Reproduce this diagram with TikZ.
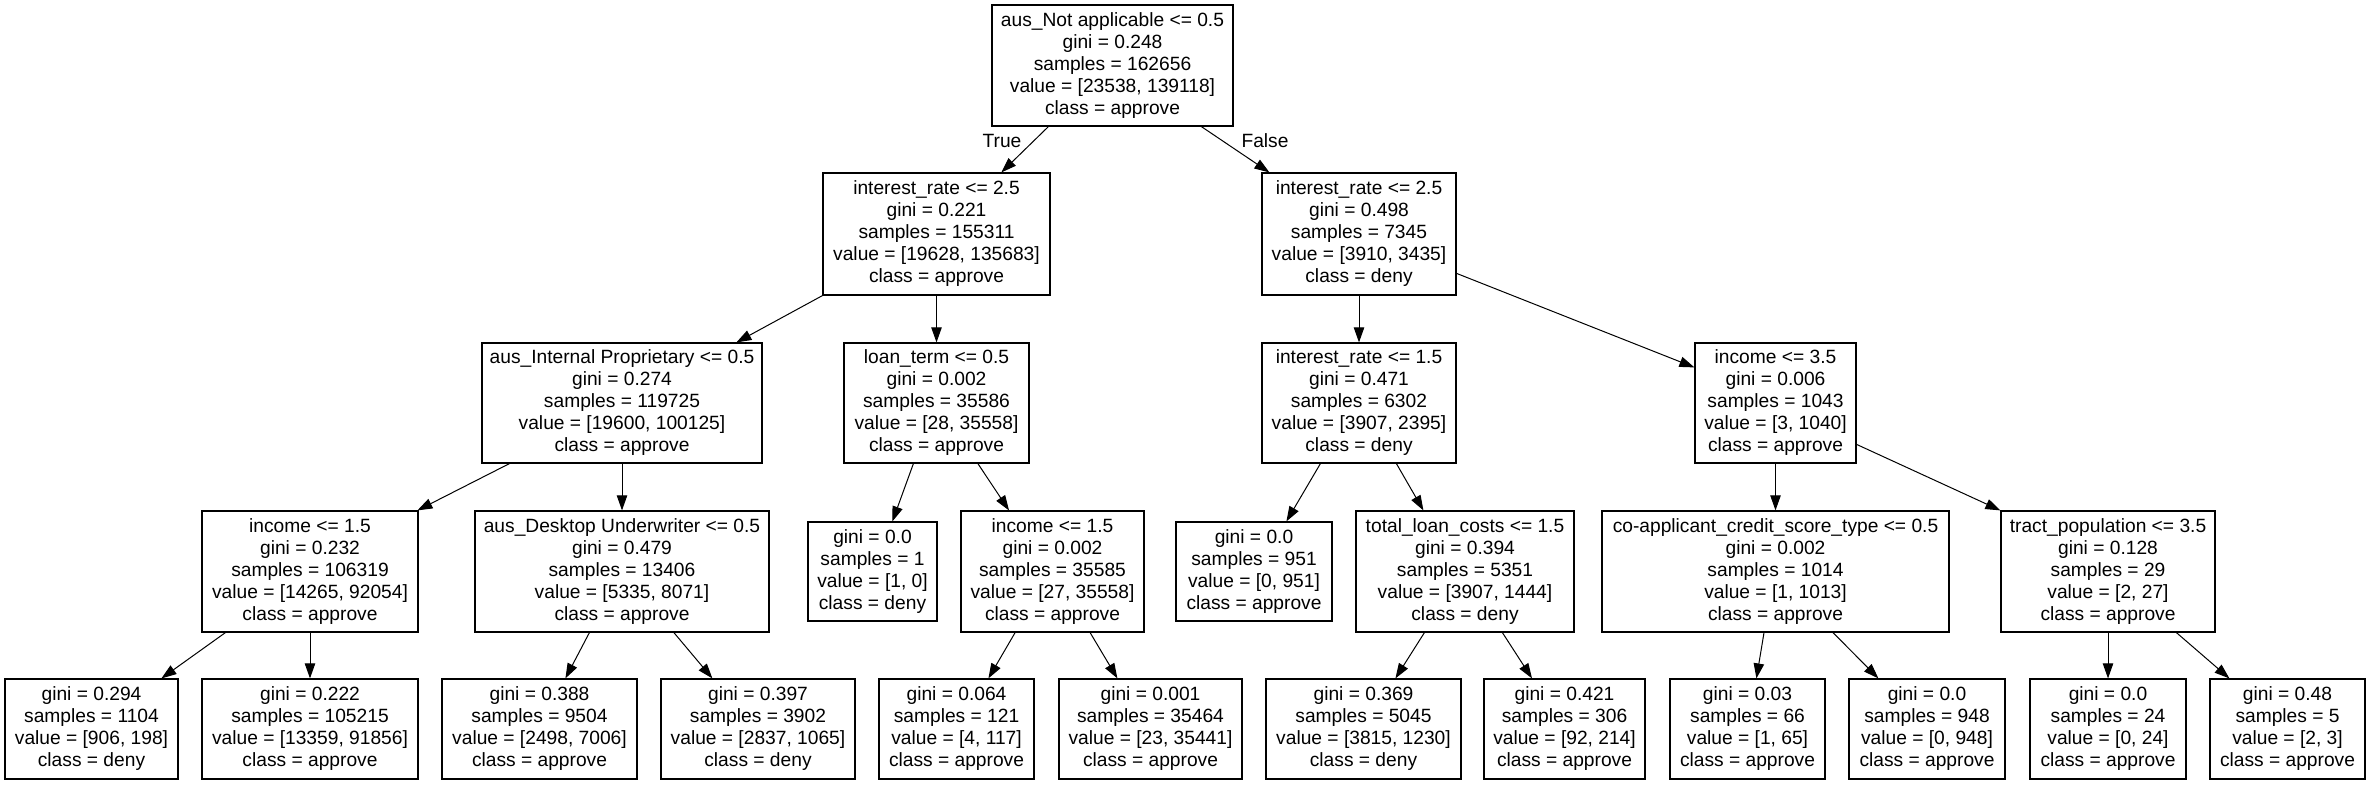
\documentclass[tikz,border=0pt]{standalone}
\usepackage{fontspec}
\setmainfont{Liberation Sans}
\usetikzlibrary{arrows.meta}
\tikzset{
 tbox/.style={draw, line width=0.6pt, inner sep=0pt, align=center, font=\fontsize{9.6pt}{11pt}\selectfont},
 edge/.style={line width=0.5pt, -{Triangle[length=7.5pt,width=5.2pt]}},
 elabel/.style={font=\fontsize{9.6pt}{11pt}\selectfont, inner sep=0pt}
}
\newcommand\tnode[6]{\node[tbox, minimum width={0.5*(#4-#2)}, minimum height={0.5*(#5-#3)}] (#1) at ({(#2+#4)/2},{(#3+#5)/2}) {#6};}
\newcommand\tedge[4]{\draw[edge] ([xshift={0.5*(#2)}]#1.south west) -- ([xshift={0.5*(#4)}]#3.north west);}
\begin{document}
\begin{tikzpicture}[x=0.5pt,y=-0.5pt]
\useasboundingbox[fill=white] (0,0) rectangle (2371,784);
% level 0
\tnode{n0}{992}{5}{1233}{126}{aus\_Not applicable <= 0.5\\gini = 0.248\\samples = 162656\\value = [23538, 139118]\\class = approve}
% level 1
\tnode{n1}{823}{173}{1050}{295}{interest\_rate <= 2.5\\gini = 0.221\\samples = 155311\\value = [19628, 135683]\\class = approve}
\tnode{n2}{1262}{173}{1456}{295}{interest\_rate <= 2.5\\gini = 0.498\\samples = 7345\\value = [3910, 3435]\\class = deny}
% level 2
\tnode{n3}{482}{343}{762}{463}{aus\_Internal Proprietary <= 0.5\\gini = 0.274\\samples = 119725\\value = [19600, 100125]\\class = approve}
\tnode{n4}{844}{343}{1029}{463}{loan\_term <= 0.5\\gini = 0.002\\samples = 35586\\value = [28, 35558]\\class = approve}
\tnode{n5}{1262}{343}{1456}{463}{interest\_rate <= 1.5\\gini = 0.471\\samples = 6302\\value = [3907, 2395]\\class = deny}
\tnode{n6}{1695}{343}{1856}{463}{income <= 3.5\\gini = 0.006\\samples = 1043\\value = [3, 1040]\\class = approve}
% level 3
\tnode{n7}{202}{511}{418}{632}{income <= 1.5\\gini = 0.232\\samples = 106319\\value = [14265, 92054]\\class = approve}
\tnode{n8}{475}{511}{769}{632}{aus\_Desktop Underwriter <= 0.5\\gini = 0.479\\samples = 13406\\value = [5335, 8071]\\class = approve}
\tnode{n9}{808}{522}{937}{621}{gini = 0.0\\samples = 1\\value = [1, 0]\\class = deny}
\tnode{n10}{961}{511}{1144}{632}{income <= 1.5\\gini = 0.002\\samples = 35585\\value = [27, 35558]\\class = approve}
\tnode{n11}{1176}{522}{1332}{621}{gini = 0.0\\samples = 951\\value = [0, 951]\\class = approve}
\tnode{n12}{1356}{511}{1574}{632}{total\_loan\_costs <= 1.5\\gini = 0.394\\samples = 5351\\value = [3907, 1444]\\class = deny}
\tnode{n13}{1602}{511}{1949}{632}{co-applicant\_credit\_score\_type <= 0.5\\gini = 0.002\\samples = 1014\\value = [1, 1013]\\class = approve}
\tnode{n14}{2001}{511}{2215}{632}{tract\_population <= 3.5\\gini = 0.128\\samples = 29\\value = [2, 27]\\class = approve}
% level 4
\tnode{n15}{5}{679}{178}{779}{gini = 0.294\\samples = 1104\\value = [906, 198]\\class = deny}
\tnode{n16}{202}{679}{418}{779}{gini = 0.222\\samples = 105215\\value = [13359, 91856]\\class = approve}
\tnode{n17}{442}{679}{637}{779}{gini = 0.388\\samples = 9504\\value = [2498, 7006]\\class = approve}
\tnode{n18}{661}{679}{855}{779}{gini = 0.397\\samples = 3902\\value = [2837, 1065]\\class = deny}
\tnode{n19}{879}{679}{1034}{779}{gini = 0.064\\samples = 121\\value = [4, 117]\\class = approve}
\tnode{n20}{1059}{679}{1242}{779}{gini = 0.001\\samples = 35464\\value = [23, 35441]\\class = approve}
\tnode{n21}{1266}{679}{1461}{779}{gini = 0.369\\samples = 5045\\value = [3815, 1230]\\class = deny}
\tnode{n22}{1484}{679}{1645}{779}{gini = 0.421\\samples = 306\\value = [92, 214]\\class = approve}
\tnode{n23}{1670}{679}{1825}{779}{gini = 0.03\\samples = 66\\value = [1, 65]\\class = approve}
\tnode{n24}{1849}{679}{2005}{779}{gini = 0.0\\samples = 948\\value = [0, 948]\\class = approve}
\tnode{n25}{2030}{679}{2186}{779}{gini = 0.0\\samples = 24\\value = [0, 24]\\class = approve}
\tnode{n26}{2210}{679}{2365}{779}{gini = 0.48\\samples = 5\\value = [2, 3]\\class = approve}
% edges
\tedge{n0}{57}{n1}{179}
\tedge{n0}{210}{n2}{8}
\node[elabel] (lt) at (1002,141) {True};
\node[elabel] (lf) at (1265,141) {False};
\tedge{n1}{0}{n3}{255}
\draw[edge] (n1.south) -- (n1.south |- n4.north);
\draw[edge] (n2.south) -- (n2.south |- n5.north);
\draw[edge] ([yshift=-50.5pt]n2.north east) -- ([yshift=-12.5pt]n6.north west);
\tedge{n3}{28}{n7}{216}
\draw[edge] (n3.south) -- (n3.south |- n8.north);
\tedge{n4}{70}{n9}{85}
\tedge{n4}{134.5}{n10}{48.6}
\tedge{n5}{59}{n11}{111}
\tedge{n5}{135}{n12}{68}
\draw[edge] (n6.south) -- (n6.south |- n13.north);
\draw[edge] ([yshift=-51pt]n6.north east) -- (n14.north west);
\tedge{n7}{24}{n15}{157}
\draw[edge] (n7.south) -- (n7.south |- n16.north);
\tedge{n8}{115}{n17}{124}
\tedge{n8}{199.5}{n18}{52}
\tedge{n10}{54.7}{n19}{110}
\tedge{n10}{129.7}{n20}{59}
\tedge{n12}{69}{n21}{130}
\tedge{n12}{147}{n22}{48.6}
\tedge{n13}{162.6}{n23}{87}
\tedge{n13}{231.6}{n24}{30}
\draw[edge] (n14.south) -- (n14.south |- n25.north);
\tedge{n14}{176}{n26}{20}
\end{tikzpicture}
\end{document}
